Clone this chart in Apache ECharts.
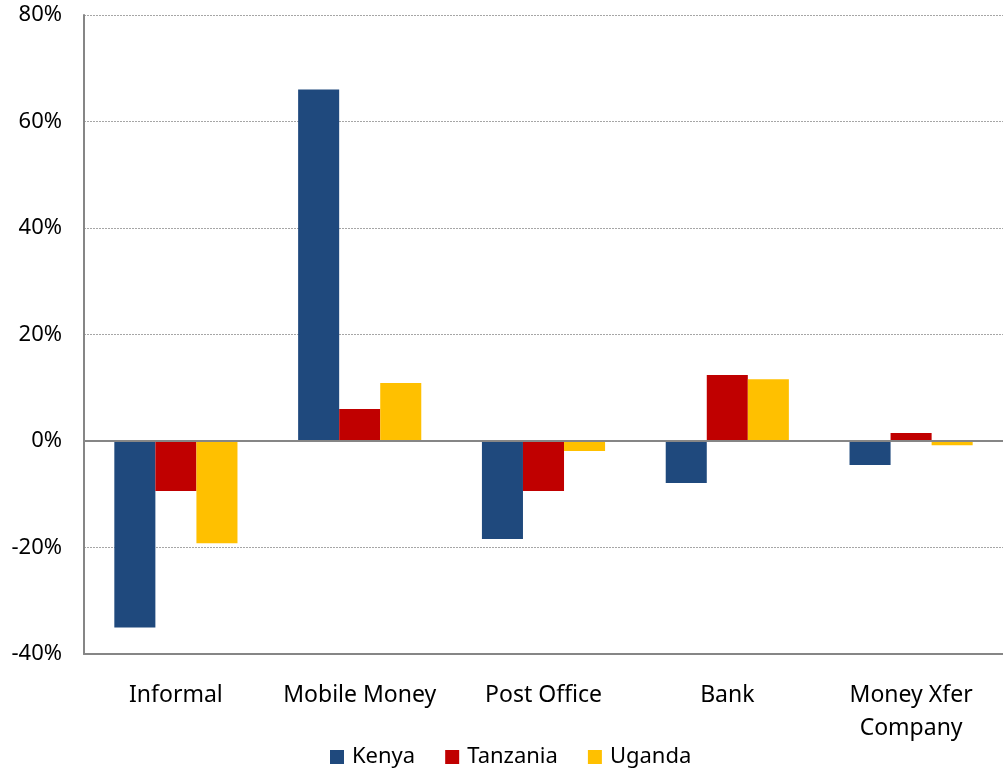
<!DOCTYPE html>
<html>
<head>
<meta charset="utf-8">
<script src="https://cdn.jsdelivr.net/npm/echarts@6/dist/echarts.min.js"></script>
<style>
  html, body { margin: 0; padding: 0; background: #fff; }
  #chart { width: 1003px; height: 769px; }
</style>
</head>
<body>
<div id="chart"></div>
<script>
// Change in share of channels used, by country (%)
const categories = ['Informal', 'Mobile Money', 'Post Office', 'Bank', 'Money Xfer\nCompany'];
const kenya    = [-35.0, 66.0, -18.4, -7.9, -4.5];
const tanzania = [-9.4, 6.0, -9.4, 12.4, 1.5];
const uganda   = [-19.2, 10.9, -1.9, 11.6, -0.8];
const yTicks = { min: -40, max: 80, interval: 20 };

const font = 'Noto Sans';
const chart = echarts.init(document.getElementById('chart'));

chart.setOption({
  animation: false,
  textStyle: { fontFamily: font, color: '#000' },
  grid: { left: 84, right: 0, top: 15, bottom: 115 },
  legend: {
    left: 325,
    top: 741,
    icon: 'rect',
    itemWidth: 14,
    itemHeight: 14,
    itemGap: 30,
    textStyle: { fontFamily: font, fontSize: 22, color: '#000', padding: [0, 0, 0, 3] },
    data: ['Kenya', 'Tanzania', 'Uganda']
  },
  xAxis: {
    type: 'category',
    data: categories,
    axisLine: { onZero: false, lineStyle: { color: '#868686', width: 2 } },
    axisTick: { show: false },
    axisLabel: { interval: 0, fontFamily: font, fontSize: 23, color: '#000', margin: 25, lineHeight: 33 }
  },
  yAxis: {
    type: 'value',
    min: yTicks.min,
    max: yTicks.max,
    interval: yTicks.interval,
    axisLine: { show: true, lineStyle: { color: '#868686', width: 2 } },
    axisTick: { show: false },
    axisLabel: { fontFamily: font, fontSize: 22, color: '#000', margin: 22, formatter: '{value}%' },
    splitLine: { lineStyle: { color: '#A6A6A6', type: [2, 1], width: 1 } }
  },
  series: [
    {
      name: 'Kenya', type: 'bar', data: kenya, barGap: '0%', barCategoryGap: '33%',
      itemStyle: { color: '#1F497D' },
      markLine: {
        silent: true, symbol: 'none', label: { show: false },
        lineStyle: { color: '#868686', type: 'solid', width: 2 },
        data: [{ yAxis: 0 }]
      }
    },
    { name: 'Tanzania', type: 'bar', data: tanzania, itemStyle: { color: '#C00000' } },
    { name: 'Uganda', type: 'bar', data: uganda, itemStyle: { color: '#FFC000' } }
  ]
});
</script>
</body>
</html>
